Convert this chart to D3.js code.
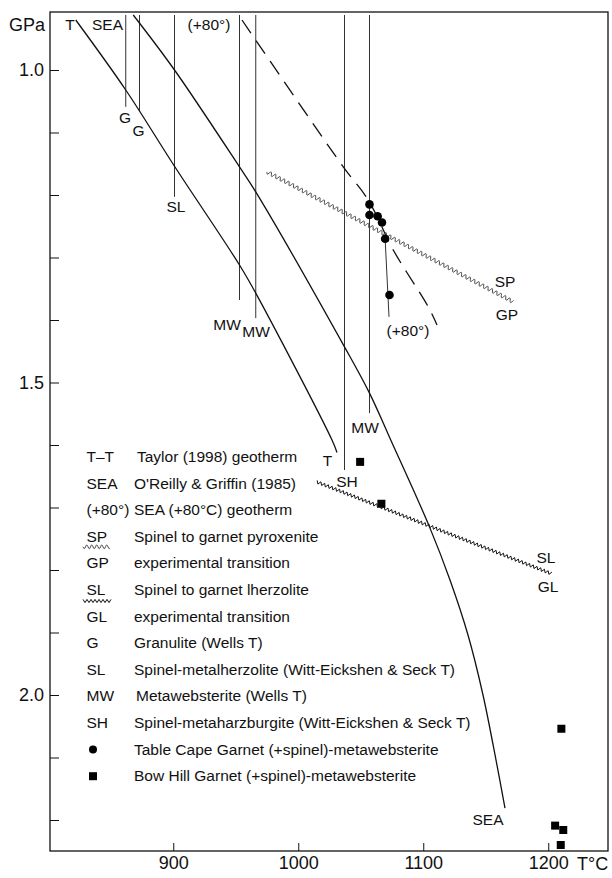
<!DOCTYPE html>
<html>
<head>
<meta charset="utf-8">
<script src="https://cdn.jsdelivr.net/npm/d3@7"></script>
<style>
  body { margin: 0; background: #fff; }
  text { font-family: "Liberation Sans", Arial, Helvetica, sans-serif; fill: #111; }
</style>
</head>
<body>
<div id="chart-container"></div>
<script>
// geotherms (T in °C, P in GPa)
const taylorT = [822, 862, 901, 953, 966, 1027, 1031];
const taylorP = [0.92, 1.032, 1.154, 1.312, 1.357, 1.592, 1.612];
const seaT = [868, 901, 953, 966, 1037, 1057, 1074, 1105, 1121.4, 1135.8, 1147.8, 1158.2, 1165.4];
const seaP = [0.912, 1.0, 1.155, 1.195, 1.443, 1.517, 1.592, 1.731, 1.816, 1.904, 2.0, 2.104, 2.181];
const sea80T = [955, 1036, 1056, 1076, 1104, 1111];
const sea80P = [0.92, 1.155, 1.208, 1.288, 1.379, 1.408];

// experimental transitions [T0, P0, T1, P1]
const spgp = [975, 1.163, 1172, 1.371];
const slgl = [1014.7, 1.659, 1202.7, 1.806];

// thermometer estimates (vertical lines from top down to P end)
const markerT = [862, 873, 901, 953, 966, 1037, 1057];
const markerPEnd = [1.059, 1.066, 1.203, 1.368, 1.397, 1.64, 1.549];
const markerTop = 0.912;
const markerNames = ["G", "G", "SL", "MW", "MW", "SH", "MW"];
const markerLabelT = [861.4, 872.2, 902.2, 943, 966.2, 1039, 1053.4];
const markerLabelP = [1.085, 1.106, 1.227, 1.416, 1.427, 1.667, 1.581];

// Table Cape (circles) and Bow Hill (squares)
const capeT = [1057, 1057, 1063.5, 1067, 1069.5, 1073];
const capeP = [1.215, 1.232, 1.234, 1.244, 1.27, 1.36];
const bowT = [1049.5, 1066.5, 1210.5, 1205.5, 1212, 1210];
const bowP = [1.627, 1.694, 2.054, 2.209, 2.216, 2.24];

// curve labels
const curveLabels = ["T", "SEA", "(+80°)", "T", "SP", "GP", "(+80°)", "SL", "GL", "SEA"];
const curveLabelT = [817.4, 847.4, 928.6, 1023.4, 1165.4, 1167, 1087.8, 1198.2, 1199.8, 1151.8];
const curveLabelP = [0.936, 0.936, 0.936, 1.634, 1.347, 1.4, 1.426, 1.789, 1.835, 2.208];

// axes
const xTicks = [900, 1000, 1100, 1200];
const yTicks = [1.0, 1.1, 1.2, 1.3, 1.4, 1.5, 1.6, 1.7, 1.8, 1.9, 2.0, 2.1, 2.2];
const yLabelled = [1.0, 1.5, 2.0];

// legend
const legendKeys = ["T–T", "SEA", "(+80°)", "SP", "GP", "SL", "GL", "G", "SL", "MW", "SH", "", ""];
const legendText = [
  "Taylor (1998) geotherm",
  "O'Reilly & Griffin (1985)",
  "SEA (+80°C) geotherm",
  "Spinel to garnet pyroxenite",
  "experimental  transition",
  "Spinel to garnet lherzolite",
  "experimental transition",
  "Granulite (Wells T)",
  "Spinel-metalherzolite (Witt-Eickshen & Seck T)",
  "Metawebsterite (Wells T)",
  "Spinel-metaharzburgite (Witt-Eickshen & Seck T)",
  "Table Cape Garnet (+spinel)-metawebsterite",
  "Bow Hill Garnet (+spinel)-metawebsterite"
];

const width = 612, height = 878;
const m_left = 50, m_right = 608, m_top = 12, m_bottom = 851;

const x = d3.scaleLinear().domain([801.4, 1247.8]).range([m_left, m_right]);
const y = d3.scaleLinear().domain([0.9072, 2.2496]).range([m_top, m_bottom]);

const svg = d3.select("#chart-container")
  .append("svg")
  .attr("width", width)
  .attr("height", height);

//frame
svg.append("rect")
  .attr("x", m_left).attr("y", m_top)
  .attr("width", m_right - m_left).attr("height", m_bottom - m_top)
  .attr("fill", "none").attr("stroke", "#111").attr("stroke-width", 1.3);

//axes
const xAxis = d3.axisBottom(x).tickValues(xTicks).tickSizeInner(-8).tickSizeOuter(0).tickPadding(5)
  .tickFormat(d3.format("d"));
svg.append("g").attr("transform", `translate(0,${m_bottom})`).call(xAxis)
  .call(g => g.select(".domain").remove())
  .call(g => g.selectAll("line").attr("stroke", "#111"))
  .call(g => g.selectAll("text").attr("font-size", 18).attr("font-family", null));

const yAxis = d3.axisLeft(y).tickValues(yTicks).tickSizeInner(-9).tickSizeOuter(0).tickPadding(6)
  .tickFormat(d => yLabelled.some(v => Math.abs(v - d) < 1e-6) ? d3.format(".1f")(d) : "");
svg.append("g").attr("transform", `translate(${m_left},0)`).call(yAxis)
  .call(g => g.select(".domain").remove())
  .call(g => g.selectAll("line").attr("stroke", "#111"))
  .call(g => g.selectAll("text").attr("font-size", 18).attr("font-family", null));

svg.append("text").attr("x", 9).attr("y", 31).attr("font-size", 18).text("GPa");
svg.append("text").attr("x", 577).attr("y", 870).attr("font-size", 18).text("T°C");

//vertical thermometer lines
markerT.forEach((t, i) => {
  svg.append("line")
    .attr("x1", x(t)).attr("x2", x(t))
    .attr("y1", y(markerTop)).attr("y2", y(markerPEnd[i]))
    .attr("stroke", "#333").attr("stroke-width", 1);
  svg.append("text")
    .attr("x", x(markerLabelT[i])).attr("y", y(markerLabelP[i]))
    .attr("text-anchor", "middle").attr("font-size", 15.5)
    .text(markerNames[i]);
});

//geotherms
const line = d3.line().x(d => x(d[0])).y(d => y(d[1])).curve(d3.curveCatmullRom.alpha(0.5));
svg.append("path").attr("d", line(taylorT.map((t, i) => [t, taylorP[i]])))
  .attr("fill", "none").attr("stroke", "#111").attr("stroke-width", 1.3);
svg.append("path").attr("d", line(seaT.map((t, i) => [t, seaP[i]])))
  .attr("fill", "none").attr("stroke", "#111").attr("stroke-width", 1.3);
svg.append("path").attr("d", line(sea80T.map((t, i) => [t, sea80P[i]])))
  .attr("fill", "none").attr("stroke", "#111").attr("stroke-width", 1.3)
  .attr("stroke-dasharray", "16,9");

//wavy transitions
function wavePath(x0, y0, x1, y1, len, amp, zig) {
  const dx = x1 - x0, dy = y1 - y0, L = Math.hypot(dx, dy);
  const ux = dx / L, uy = dy / L, nx = -uy, ny = ux;
  const step = zig ? len / 2 : len / 8;
  const pts = [];
  for (let s = 0, i = 0; s <= L; s += step, i++) {
    const off = zig ? (i % 2 ? amp : -amp) : amp * Math.sin(2 * Math.PI * s / len);
    pts.push([x0 + ux * s + nx * off, y0 + uy * s + ny * off]);
  }
  return d3.line().curve(zig ? d3.curveLinear : d3.curveBasis)(pts);
}
svg.append("path")
  .attr("d", wavePath(x(spgp[0]), y(spgp[1]), x(spgp[2]), y(spgp[3]), 5, 2.1, false))
  .attr("fill", "none").attr("stroke", "#444").attr("stroke-width", 1);
svg.append("path")
  .attr("d", wavePath(x(slgl[0]), y(slgl[1]), x(slgl[2]), y(slgl[3]), 4, 1.6, true))
  .attr("fill", "none").attr("stroke", "#111").attr("stroke-width", 1);

//pointer from Table Cape points to the (+80°) label
svg.append("line")
  .attr("x1", x(capeT[4])).attr("y1", y(capeP[4]))
  .attr("x2", x(1072.6)).attr("y2", y(1.395))
  .attr("stroke", "#333").attr("stroke-width", 1);

//points
svg.selectAll(".cape").data(capeT).enter().append("circle")
  .attr("class", "cape")
  .attr("cx", d => x(d)).attr("cy", (d, i) => y(capeP[i]))
  .attr("r", 4.3).attr("fill", "#000");
svg.selectAll(".bow").data(bowT).enter().append("rect")
  .attr("class", "bow")
  .attr("x", d => x(d) - 4).attr("y", (d, i) => y(bowP[i]) - 4)
  .attr("width", 8).attr("height", 8).attr("fill", "#000");

//curve labels
curveLabels.forEach((s, i) => {
  svg.append("text")
    .attr("x", x(curveLabelT[i])).attr("y", y(curveLabelP[i]))
    .attr("text-anchor", "middle").attr("font-size", 15.5)
    .text(s);
});

//legend
const l_x = 86.5;
const t_x = 134;
const l_y = 462;
const l_dy = 26.6;

legendKeys.forEach((k, i) => {
  svg.append("text")
    .attr("x", l_x).attr("y", l_y + l_dy * i)
    .attr("font-size", 15.5)
    .text(k);
  svg.append("text")
    .attr("x", t_x + (i === 0 ? 3 : i === 9 ? 2 : 0)).attr("y", l_y + l_dy * i)
    .attr("font-size", 15.5)
    .text(legendText[i]);
});

// legend wave symbols (between the SP/GP and SL/GL rows)
svg.append("path")
  .attr("d", wavePath(83, l_y + l_dy * 3 + 5, 110, l_y + l_dy * 3 + 5, 5, 2.1, false))
  .attr("fill", "none").attr("stroke", "#444").attr("stroke-width", 1);
svg.append("path")
  .attr("d", wavePath(83, l_y + l_dy * 5 + 6, 111, l_y + l_dy * 5 + 6, 4, 1.6, true))
  .attr("fill", "none").attr("stroke", "#111").attr("stroke-width", 1);

svg.append("circle").attr("cx", 93).attr("cy", l_y + l_dy * 11 - 5).attr("r", 4).attr("fill", "#000");
svg.append("rect").attr("x", 89).attr("y", l_y + l_dy * 12 - 9).attr("width", 8).attr("height", 8).attr("fill", "#000");
</script>
</body>
</html>
